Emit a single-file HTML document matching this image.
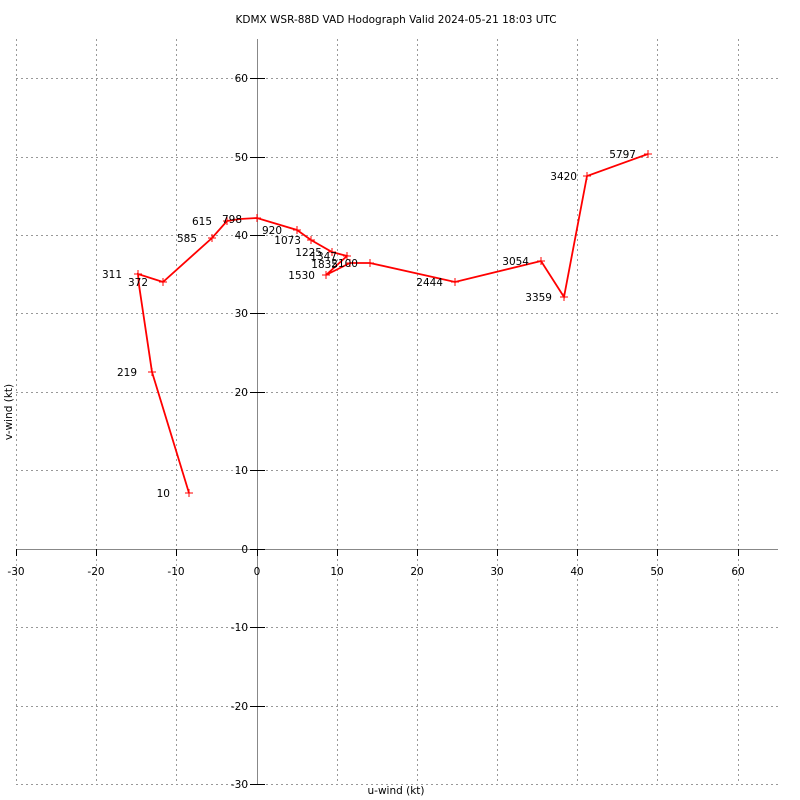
<!DOCTYPE html><html><head><style>body{margin:0;background:#fff}svg{display:block}text{font-family:"DejaVu Sans","Liberation Sans",sans-serif;font-size:10.5px}</style></head><body>
<svg width="800" height="800" xmlns="http://www.w3.org/2000/svg">
<rect width="800" height="800" fill="#fff"/>
<text x="396" y="23" text-anchor="middle">KDMX WSR-88D VAD Hodograph Valid 2024-05-21 18:03 UTC</text>
<g stroke="#999" stroke-dasharray="2,3" stroke-width="1">
<line x1="16.5" y1="39" x2="16.5" y2="784"/><line x1="96.5" y1="39" x2="96.5" y2="784"/><line x1="176.5" y1="39" x2="176.5" y2="784"/><line x1="337.5" y1="39" x2="337.5" y2="784"/><line x1="417.5" y1="39" x2="417.5" y2="784"/><line x1="497.5" y1="39" x2="497.5" y2="784"/><line x1="577.5" y1="39" x2="577.5" y2="784"/><line x1="657.5" y1="39" x2="657.5" y2="784"/><line x1="738.5" y1="39" x2="738.5" y2="784"/>
<line x1="16" y1="78.5" x2="778" y2="78.5"/><line x1="16" y1="157.5" x2="778" y2="157.5"/><line x1="16" y1="235.5" x2="778" y2="235.5"/><line x1="16" y1="313.5" x2="778" y2="313.5"/><line x1="16" y1="392.5" x2="778" y2="392.5"/><line x1="16" y1="470.5" x2="778" y2="470.5"/><line x1="16" y1="627.5" x2="778" y2="627.5"/><line x1="16" y1="706.5" x2="778" y2="706.5"/><line x1="16" y1="784.5" x2="778" y2="784.5"/>
</g>
<g stroke="#888" stroke-width="1"><line x1="257.5" y1="39" x2="257.5" y2="784"/><line x1="16" y1="549.5" x2="778" y2="549.5"/></g>
<g stroke="#000" stroke-width="1">
<line x1="16.5" y1="549" x2="16.5" y2="556"/><line x1="96.5" y1="549" x2="96.5" y2="556"/><line x1="176.5" y1="549" x2="176.5" y2="556"/><line x1="257.5" y1="549" x2="257.5" y2="556"/><line x1="337.5" y1="549" x2="337.5" y2="556"/><line x1="417.5" y1="549" x2="417.5" y2="556"/><line x1="497.5" y1="549" x2="497.5" y2="556"/><line x1="577.5" y1="549" x2="577.5" y2="556"/><line x1="657.5" y1="549" x2="657.5" y2="556"/><line x1="738.5" y1="549" x2="738.5" y2="556"/>
<line x1="250" y1="78.5" x2="265" y2="78.5"/><line x1="250" y1="157.5" x2="265" y2="157.5"/><line x1="250" y1="235.5" x2="265" y2="235.5"/><line x1="250" y1="313.5" x2="265" y2="313.5"/><line x1="250" y1="392.5" x2="265" y2="392.5"/><line x1="250" y1="470.5" x2="265" y2="470.5"/><line x1="250" y1="549.5" x2="265" y2="549.5"/><line x1="250" y1="627.5" x2="265" y2="627.5"/><line x1="250" y1="706.5" x2="265" y2="706.5"/><line x1="250" y1="784.5" x2="265" y2="784.5"/>
</g>
<g text-anchor="middle">
<text x="16" y="575">-30</text><text x="96" y="575">-20</text><text x="176" y="575">-10</text><text x="257" y="575">0</text><text x="337" y="575">10</text><text x="417" y="575">20</text><text x="497" y="575">30</text><text x="577" y="575">40</text><text x="657" y="575">50</text><text x="738" y="575">60</text>
</g>
<g text-anchor="end">
<text x="248" y="82">60</text><text x="248" y="161">50</text><text x="248" y="239">40</text><text x="248" y="317">30</text><text x="248" y="396">20</text><text x="248" y="474">10</text><text x="248" y="553">0</text><text x="248" y="631">-10</text><text x="248" y="710">-20</text><text x="248" y="788">-30</text>
</g>
<text x="396" y="794" text-anchor="middle">u-wind (kt)</text>
<text transform="translate(12,412) rotate(-90)" text-anchor="middle">v-wind (kt)</text>
<polyline fill="none" stroke="#f00" stroke-width="1.8" points="189,493 152,372 139,285 138,274 163,282 212,238 227,221 240,219 257,218 297,230 311,240 332,252 347,256 326,275 350,263 370,263 455,282 541,261 564,297 587,176 648,154"/>
<g stroke="#f00" stroke-width="1">
<path d="M185,493h8M189,489v8M148,372h8M152,368v8M134,274h8M138,270v8M159,282h8M163,278v8M208,238h8M212,234v8M223,221h8M227,217v8M253,218h8M257,214v8M293,230h8M297,226v8M307,240h8M311,236v8M328,252h8M332,248v8M343,256h8M347,252v8M322,275h8M326,271v8M346,263h8M350,259v8M366,263h8M370,259v8M451,282h8M455,278v8M537,261h8M541,257v8M560,297h8M564,293v8M583,176h8M587,172v8M644,154h8M648,150v8"/>
</g>
<g text-anchor="end">
<text x="170" y="497">10</text><text x="137" y="376">219</text><text x="122" y="278">311</text><text x="148" y="286">372</text><text x="197" y="242">585</text><text x="212" y="225">615</text><text x="242" y="223">798</text><text x="282" y="234">920</text><text x="301" y="244">1073</text><text x="322" y="256">1225</text><text x="337" y="260">1347</text><text x="315" y="279">1530</text><text x="338" y="268">1835</text><text x="358" y="267">2100</text><text x="443" y="286">2444</text><text x="529" y="265">3054</text><text x="552" y="301">3359</text><text x="577" y="180">3420</text><text x="636" y="158">5797</text>
</g>
</svg></body></html>
